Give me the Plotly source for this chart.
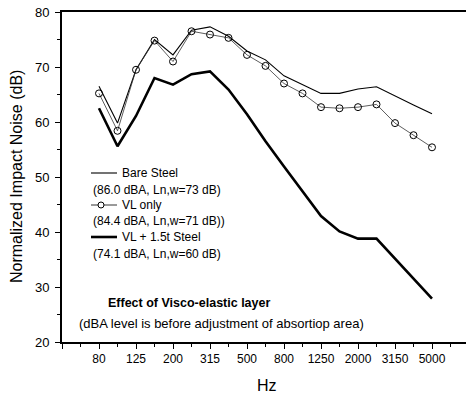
import plotly.graph_objects as go

freqs = ["80", "100", "125", "160", "200", "250", "315", "400", "500", "630",
         "800", "1000", "1250", "1600", "2000", "2500", "3150", "4000", "5000"]
bare_steel = [66.5, 59.8, 69.5, 75.0, 72.2, 76.7, 77.3, 75.6, 72.9, 71.3,
              68.4, 66.8, 65.2, 65.2, 66.0, 66.4, 64.7, 63.1, 61.5]
vl_only = [65.2, 58.4, 69.5, 74.8, 71.0, 76.5, 75.9, 75.3, 72.2, 70.2,
           67.0, 65.2, 62.7, 62.5, 62.7, 63.2, 59.8, 57.6, 55.4]
vl_steel = [62.5, 55.6, 61.1, 68.0, 66.8, 68.7, 69.2, 65.9, 61.4, 56.5,
            51.9, 47.4, 42.9, 40.1, 38.8, 38.8, 35.2, 31.6, 27.9]
legend_names = ["Bare Steel", "VL only", "VL + 1.5t Steel"]
legend_notes = ["(86.0 dBA, Ln,w=73 dB)", "(84.4 dBA, Ln,w=71 dB))", "(74.1 dBA, Ln,w=60 dB)"]

xi = list(range(len(freqs)))
FONT = "Liberation Sans, Arial, sans-serif"

W, H = 466, 393
L, R, T, B = 62, 0, 12, 51
PW, PH = W - L - R, H - T - B
XMAX = -2 + PW / 18.5


def px(x):
    return (x - L) / PW


def py(y):
    return (H - B - y) / PH


fig = go.Figure()
fig.add_trace(go.Scatter(x=xi, y=bare_steel, mode="lines", name=legend_names[0],
                         line=dict(color="black", width=1.1)))
fig.add_trace(go.Scatter(x=xi, y=vl_only, mode="lines+markers", name=legend_names[1],
                         line=dict(color="#333333", width=0.8),
                         marker=dict(symbol="circle-open", size=7, color="black",
                                     line=dict(width=1, color="black"))))
fig.add_trace(go.Scatter(x=xi, y=vl_steel, mode="lines", name=legend_names[2],
                         line=dict(color="black", width=2.6)))

# legend (manual)
rows = [173, 205, 237]
widths = [1.1, 0.8, 2.6]
shapes = []
annotations = []
for i, (name, note) in enumerate(zip(legend_names, legend_notes)):
    yy = rows[i]
    shapes.append(dict(type="line", xref="paper", yref="paper",
                       x0=px(91), x1=px(117), y0=py(yy), y1=py(yy),
                       line=dict(color="black", width=widths[i])))
    annotations.append(dict(xref="paper", yref="paper", x=px(120), y=py(yy),
                            xanchor="left", yanchor="middle", showarrow=False,
                            text=name, font=dict(size=12, family=FONT, color="black")))
    annotations.append(dict(xref="paper", yref="paper", x=px(91), y=py(yy + 16.5),
                            xanchor="left", yanchor="middle", showarrow=False,
                            text=note, font=dict(size=12, family=FONT, color="black")))
shapes.append(dict(type="circle", xref="paper", yref="paper",
                   x0=px(98), x1=px(104), y0=py(202), y1=py(208),
                   fillcolor="white", line=dict(color="black", width=1)))

annotations.append(dict(xref="paper", yref="paper", x=px(188.5), y=py(303),
                        xanchor="center", yanchor="middle", showarrow=False,
                        text="<b>Effect of Visco-elastic layer</b>",
                        font=dict(size=12.5, family=FONT, color="black")))
annotations.append(dict(xref="paper", yref="paper", x=px(221.5), y=py(323),
                        xanchor="center", yanchor="middle", showarrow=False,
                        text="(dBA level is before adjustment of absortiop area)",
                        font=dict(size=13, family=FONT, color="black")))
annotations.append(dict(xref="paper", yref="paper", x=px(16), y=py(177),
                        xanchor="center", yanchor="middle", showarrow=False,
                        textangle=-90, text="Normalized Impact Noise (dB)",
                        font=dict(size=16, family=FONT, color="black")))
annotations.append(dict(xref="paper", yref="paper", x=px(267), y=py(385),
                        xanchor="center", yanchor="middle", showarrow=False,
                        text="Hz", font=dict(size=16, family=FONT, color="black")))

fig.update_layout(
    width=W, height=H,
    margin=dict(l=L, r=R, t=T, b=B),
    paper_bgcolor="white", plot_bgcolor="white",
    showlegend=False,
    shapes=shapes, annotations=annotations,
    font=dict(family=FONT, color="black"),
)
major_x = list(range(-2, int(XMAX) + 1, 2))
minor_x = list(range(-1, int(XMAX) + 1, 2))
fig.update_xaxes(
    range=[-2, XMAX],
    tickmode="array", tickvals=major_x,
    ticktext=[freqs[v] if 0 <= v < len(freqs) else "" for v in major_x],
    ticks="outside", ticklen=5, tickwidth=1.2, tickcolor="black",
    minor=dict(tickmode="array", tickvals=minor_x, ticks="outside", ticklen=3,
               tickwidth=1.2, tickcolor="black"),
    showline=True, linecolor="black", linewidth=1.8, mirror=True,
    showgrid=False, zeroline=False,
    tickfont=dict(size=12, family=FONT, color="black"),
    ticklabelstandoff=0,
)
fig.update_yaxes(
    range=[20, 80], tickmode="array", tickvals=[20, 30, 40, 50, 60, 70, 80],
    ticks="outside", ticklen=5, tickwidth=1.2, tickcolor="black",
    minor=dict(tickmode="array", tickvals=[25, 35, 45, 55, 65, 75], ticks="outside",
               ticklen=3, tickwidth=1.2, tickcolor="black"),
    showline=True, linecolor="black", linewidth=1.8,
    showgrid=False, zeroline=False,
    tickfont=dict(size=13, family=FONT, color="black"),
    ticklabelstandoff=3,
)

fig.write_html("out.html")
